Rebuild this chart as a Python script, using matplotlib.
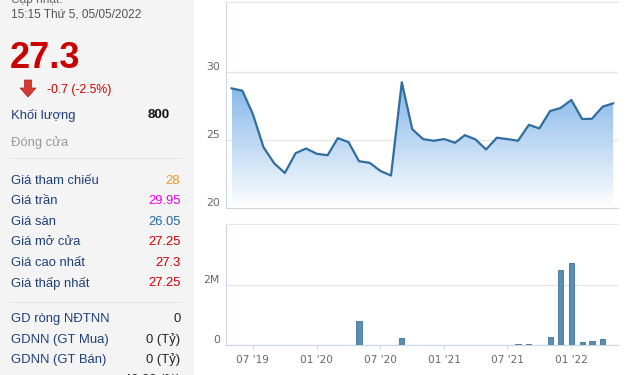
import matplotlib
matplotlib.use("Agg")
import matplotlib.pyplot as plt
import matplotlib.dates as mdates
import matplotlib.patches as patches
from matplotlib.colors import LinearSegmentedColormap
from matplotlib.ticker import FuncFormatter
import numpy as np
import pandas as pd

# monthly closing price, May 2019 -> May 2022
months = pd.date_range("2019-05-01", periods=37, freq="MS")
price = [28.77, 28.6, 26.89, 24.44, 23.26, 22.57, 24.02, 24.36, 23.97, 23.87,
         25.12, 24.83, 23.43, 23.31, 22.72, 22.38, 29.22, 25.78, 25.05, 24.93,
         25.05, 24.78, 25.34, 25.02, 24.29, 25.15, 25.05, 24.93, 26.10, 25.83,
         27.11, 27.33, 27.92, 26.52, 26.54, 27.43, 27.67]
volume = [0, 0, 0, 0, 0, 0, 0, 0, 0, 0,
          0, 0, 800000, 0, 0, 0, 220000, 0, 0, 0,
          0, 0, 0, 0, 0, 0, 0, 30000, 30000, 0,
          260000, 2510000, 2740000, 100000, 130000, 200000, 800]

tick_dates = pd.to_datetime(["2019-07-01", "2020-01-01", "2020-07-01",
                             "2021-01-01", "2021-07-01", "2022-01-01"])
tick_labels = ["07 '19", "01 '20", "07 '20", "01 '21", "07 '21", "01 '22"]

# left info panel
updated_label = "Cập nhật:"
updated_time = "15:15 Thứ 5, 05/05/2022"
last_price = "27.3"
change_text = "-0.7 (-2.5%)"
volume_label, volume_value = "Khối lượng", "800"
status_label = "Đóng cửa"
price_rows = [("Giá tham chiếu", "28", "#f7931e"),
              ("Giá trần", "29.95", "#ee00ee"),
              ("Giá sàn", "26.05", "#1f6aa5"),
              ("Giá mở cửa", "27.25", "#cc0000"),
              ("Giá cao nhất", "27.3", "#cc0000"),
              ("Giá thấp nhất", "27.25", "#cc0000")]
foreign_rows = [("GD ròng NĐTNN", "0"),
                ("GDNN (GT Mua)", "0 (Tỷ)"),
                ("GDNN (GT Bán)", "0 (Tỷ)"),
                ("Room NN còn lại", "49.00 (%)")]

W, H = 640, 375
fig = plt.figure(figsize=(W / 100, H / 100), dpi=100)
fig.patch.set_facecolor("white")


def fx(x):
    return x / W


def fy(y):
    return 1 - y / H


ARIAL = "Liberation Sans"
NAVY = "#1f3f78"

# grey side panel
fig.add_artist(patches.Rectangle((0, 0), fx(194), 1, transform=fig.transFigure,
                                 facecolor="#f4f4f4", edgecolor="none", zorder=0))

fig.text(fx(11), fy(3.5), updated_label, fontsize=8.6, color="#666666", family=ARIAL)
fig.text(fx(11), fy(17.5), updated_time, fontsize=8.6, color="#555555", family=ARIAL)
fig.text(fx(10), fy(68), last_price, fontsize=26, color="#cc0000",
         family=ARIAL, fontweight="bold")

# red down arrow icon
arrow_px = [(24.5, 80), (31.5, 80), (31.5, 88), (36, 88), (28, 97), (20, 88), (24.5, 88)]
fig.add_artist(patches.Polygon([(fx(a), fy(b)) for a, b in arrow_px],
                               closed=True, transform=fig.transFigure,
                               facecolor="#d63a35", edgecolor="#b02020", lw=0.5))
fig.text(fx(47), fy(93.5), change_text, fontsize=8.8, color="#cc0000", family=ARIAL)

fig.text(fx(11), fy(119.5), volume_label, fontsize=9.4, color=NAVY, family=ARIAL)
fig.text(fx(170), fy(118.5), volume_value, fontsize=9.6, color="#111111",
         family=ARIAL, fontweight="bold", ha="right")
fig.text(fx(11), fy(146), status_label, fontsize=9.4, color="#999999", family=ARIAL)

for ysep in (158, 302):
    fig.add_artist(plt.Line2D([fx(10), fx(181)], [fy(ysep), fy(ysep)],
                              transform=fig.transFigure, color="#e4e4e4", lw=0.8))

for i, (lab, val, col) in enumerate(price_rows):
    yb = 184 + i * 20.5
    fig.text(fx(11), fy(yb), lab, fontsize=9.4, color=NAVY, family=ARIAL)
    fig.text(fx(180.5), fy(yb), val, fontsize=9.4, color=col, family=ARIAL, ha="right")

for i, (lab, val) in enumerate(foreign_rows):
    yb = 322 + i * 20.5
    fig.text(fx(11), fy(yb), lab, fontsize=9.4, color=NAVY, family=ARIAL)
    fig.text(fx(180.5), fy(yb), val, fontsize=9.4, color="#222222", family=ARIAL, ha="right")

# chart axes
xmin, xmax = pd.Timestamp("2019-04-15"), pd.Timestamp("2022-05-15")
ax1 = fig.add_axes([fx(226), fy(208), fx(618) - fx(226), fy(2) - fy(208)])
ax2 = fig.add_axes([fx(226), fy(345), fx(618) - fx(226), fy(224) - fy(345)])

LINE = "#2f6e9f"
ax1.plot(months, price, color=LINE, lw=1.6, zorder=3)
poly = ax1.fill_between(months, price, 20, color="none", lw=0)
grad_cmap = LinearSegmentedColormap.from_list("g", ["#ffffff", "#7db2e8"])
grad = np.linspace(0, 1, 256).reshape(-1, 1)
im = ax1.imshow(grad, extent=[mdates.date2num(months[0]), mdates.date2num(months[-1]), 20, 29.6],
                aspect="auto", origin="lower", cmap=grad_cmap, zorder=2)
im.set_clip_path(poly.get_paths()[0], transform=ax1.transData)
ax1.set_xlim(xmin, xmax)
ax1.set_ylim(20, 35.1)
ax1.set_yticks([20, 25, 30])
ax1.set_xticks([])
ax1.grid(axis="y", color="#e6e6e6", lw=1)
ax1.set_axisbelow(True)

ax2.bar(months, volume, width=15, color="#5a8fb2", edgecolor="#3d7299", lw=0.6, zorder=3)
ax2.set_xlim(xmin, xmax)
ax2.set_ylim(0, 4.05e6)
ax2.set_yticks([0, 2e6])
ax2.yaxis.set_major_formatter(FuncFormatter(lambda v, p: "0" if v == 0 else f"{v / 1e6:.0f}M"))
ax2.set_xticks(tick_dates)
ax2.set_xticklabels(tick_labels)
ax2.grid(axis="y", color="#e6e6e6", lw=1)
ax2.set_axisbelow(True)

for ax in (ax1, ax2):
    ax.set_facecolor("white")
    ax.spines["right"].set_visible(False)
    ax.spines["top"].set_color("#e6e6e6")
    ax.spines["left"].set_color("#ccd6eb")
    ax.spines["bottom"].set_color("#ccd6eb")
    ax.tick_params(axis="y", length=0, pad=4.5, labelsize=7.8, labelcolor="#666666")
    for t in ax.get_yticklabels():
        t.set_verticalalignment("bottom")
ax1.spines["bottom"].set_color("#d8d8d8")
ax2.tick_params(axis="x", length=3, color="#ccd6eb", pad=4, labelsize=7.6, labelcolor="#666666")

fig.savefig("out.png", dpi=100)
